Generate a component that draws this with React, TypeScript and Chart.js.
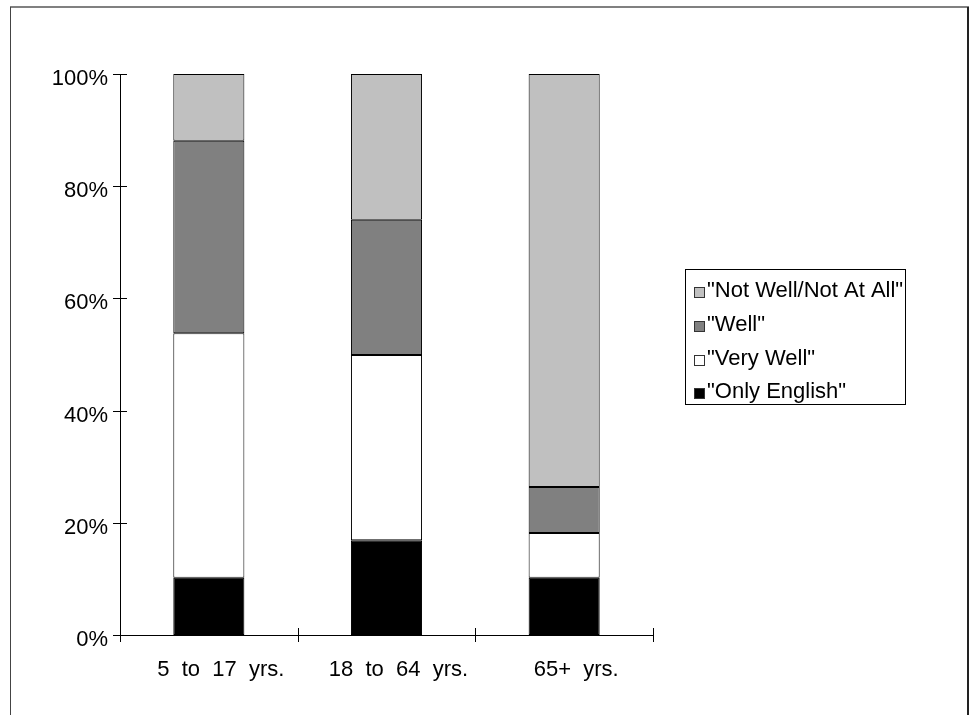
import React, { useEffect, useRef } from "react";
import { Chart, registerables } from "chart.js";

Chart.register(...registerables);

const categories = ["5  to  17  yrs.", "18  to  64  yrs.", "65+  yrs."];
const onlyEnglish = [10.2, 16.9, 10.2];
const veryWell = [43.6, 33.0, 8.0];
const well = [34.3, 24.1, 8.2];
const notWell = [11.9, 26.0, 73.6];
const seriesNames = ['"Only English"', '"Very Well"', '"Well"', '"Not Well/Not At All"'];
const seriesColors = ["#000000", "#ffffff", "#808080", "#c0c0c0"];
const yTicks = [0, 20, 40, 60, 80, 100];

const FONT = '"Liberation Sans", Arial, sans-serif';

const framePlugin = {
  id: "frame",
  afterDraw(chart: any) {
    const ctx = chart.ctx;
    ctx.save();
    // outer frame
    ctx.strokeStyle = "#808080";
    ctx.lineWidth = 2;
    ctx.beginPath();
    ctx.moveTo(10, 7);
    ctx.lineTo(969, 7);
    ctx.stroke();
    ctx.strokeStyle = "#444444";
    ctx.lineWidth = 1;
    ctx.beginPath();
    ctx.moveTo(10.5, 7);
    ctx.lineTo(10.5, 715);
    ctx.stroke();
    ctx.strokeStyle = "#222222";
    ctx.lineWidth = 2;
    ctx.beginPath();
    ctx.moveTo(968, 7);
    ctx.lineTo(968, 715);
    ctx.stroke();

    // axis tick marks crossing the axes
    const xs = chart.scales.x;
    const ys = chart.scales.y;
    const area = chart.chartArea;
    ctx.strokeStyle = "#000000";
    ctx.lineWidth = 1;
    ctx.beginPath();
    for (const v of yTicks) {
      const py = Math.round(ys.getPixelForValue(v)) + 0.5;
      ctx.moveTo(area.left - 7, py);
      ctx.lineTo(area.left + 7, py);
    }
    const n = categories.length;
    const bottom = Math.round(area.bottom);
    for (let i = 0; i <= n; i++) {
      const px = Math.round(xs.getPixelForValue(i - 0.5)) + 0.5;
      ctx.moveTo(px, bottom - 7);
      ctx.lineTo(px, bottom + 7);
    }
    ctx.stroke();

    // legend box
    const lx = 685.5, ly = 269.5, lw = 220, lh = 135;
    ctx.strokeStyle = "#000000";
    ctx.strokeRect(lx, ly, lw, lh);
    ctx.font = "22px " + FONT;
    ctx.textBaseline = "middle";
    ctx.textAlign = "left";
    ctx.fillStyle = "#000";
    const ds = chart.data.datasets;
    const order = [3, 2, 1, 0];
    order.forEach((di: number, k: number) => {
      const cy = 292 + k * 33.8;
      const top = Math.round(cy - 5);
      ctx.fillStyle = ds[di].backgroundColor;
      ctx.fillRect(694, top, 11, 11);
      ctx.strokeStyle = "#333333";
      ctx.strokeRect(694.5, top + 0.5, 10, 10);
      ctx.fillStyle = "#000";
      ctx.fillText(ds[di].label, 707, cy - 1);
    });
    ctx.restore();
  },
};

export default function App() {
  const ref = useRef<HTMLCanvasElement | null>(null);
  useEffect(() => {
    if (!ref.current) return;
    const values = [onlyEnglish, veryWell, well, notWell];
    const chart = new Chart(ref.current, {
      type: "bar",
      data: {
        labels: categories,
        datasets: values.map((d, i) => ({
          label: seriesNames[i],
          data: d,
          backgroundColor: seriesColors[i],
          borderColor: "#000000",
          borderWidth: 1,
          borderSkipped: false,
          barPercentage: 0.4,
          categoryPercentage: 1,
        })),
      },
      options: {
        responsive: false,
        animation: false,
        devicePixelRatio: 1,
        layout: { padding: { left: 0, top: 74, right: 318, bottom: 0 } },
        plugins: { legend: { display: false }, tooltip: { enabled: false } },
        scales: {
          x: {
            stacked: true,
            grid: { display: false, drawTicks: false },
            border: { display: true, color: "#000", width: 1 },
            ticks: {
              color: "#000",
              font: { family: FONT, size: 22 },
              padding: 22,
              labelOffset: 12,
              maxRotation: 0,
              autoSkip: false,
            },
            afterFit(s: any) {
              s.height = 80;
            },
          },
          y: {
            stacked: true,
            min: 0,
            max: 100,
            grid: { display: false, drawTicks: false },
            border: { display: true, color: "#000", width: 1 },
            ticks: {
              stepSize: 20,
              color: "#000",
              font: { family: FONT, size: 22 },
              padding: 12,
              labelOffset: 5,
              callback: (v: any) => v + "%",
            },
            afterFit(s: any) {
              s.width = 120;
            },
          },
        },
      },
      plugins: [framePlugin],
    });
    return () => chart.destroy();
  }, []);
  return (
    <div style={{ position: "absolute", left: 0, top: 0, width: 971, height: 715, background: "#fff" }}>
      <canvas ref={ref} width={971} height={715} style={{ display: "block" }} />
    </div>
  );
}
